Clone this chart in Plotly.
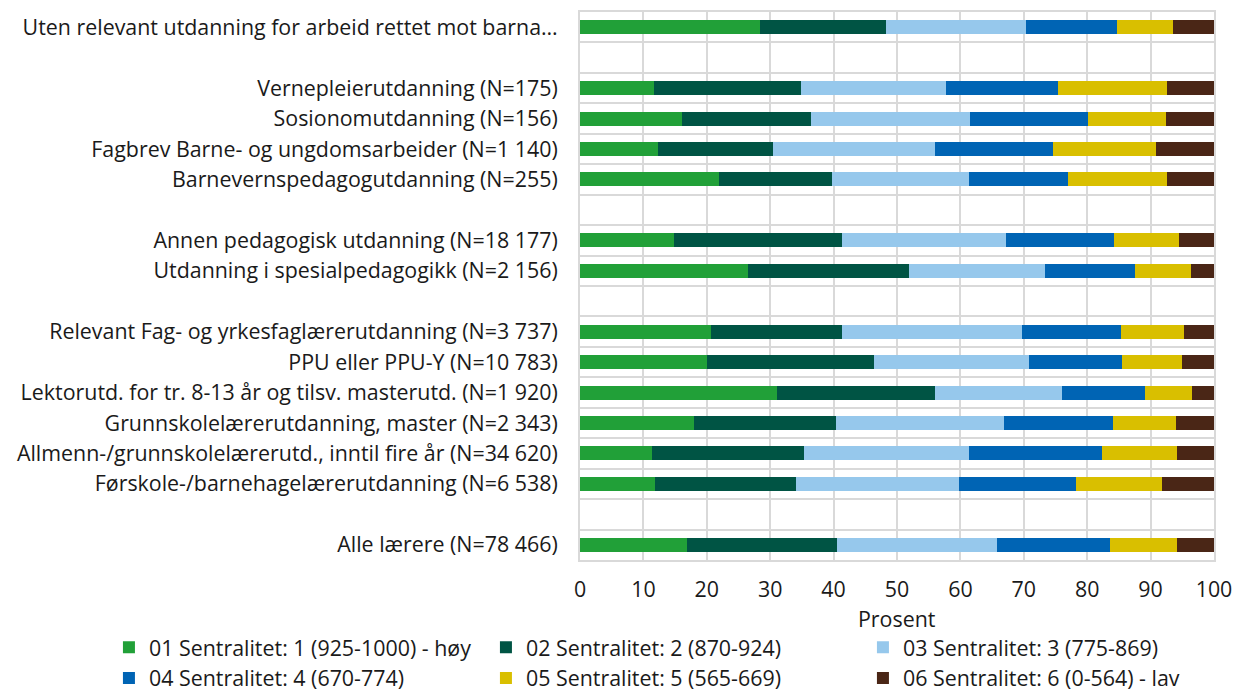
import plotly.graph_objects as go

# Category groups (top to bottom); blank rows separate groups
groups = [
    ["Uten relevant utdanning for arbeid rettet mot barna…"],
    ["Vernepleierutdanning (N=175)",
     "Sosionomutdanning (N=156)",
     "Fagbrev Barne- og ungdomsarbeider (N=1 140)",
     "Barnevernspedagogutdanning (N=255)"],
    ["Annen pedagogisk utdanning (N=18 177)",
     "Utdanning i spesialpedagogikk (N=2 156)"],
    ["Relevant Fag- og yrkesfaglærerutdanning (N=3 737)",
     "PPU eller PPU-Y (N=10 783)",
     "Lektorutd. for tr. 8-13 år og tilsv. masterutd. (N=1 920)",
     "Grunnskolelærerutdanning, master (N=2 343)",
     "Allmenn-/grunnskolelærerutd., inntil fire år (N=34 620)",
     "Førskole-/barnehagelærerutdanning (N=6 538)"],
    ["Alle lærere (N=78 466)"],
]

series_names = [
    "01 Sentralitet: 1 (925-1000) - høy",
    "02 Sentralitet: 2 (870-924)",
    "03 Sentralitet: 3 (775-869)",
    "04 Sentralitet: 4 (670-774)",
    "05 Sentralitet: 5 (565-669)",
    "06 Sentralitet: 6 (0-564) - lav",
]

# values per series, in the category order above (flattened)
s1 = [28.4, 11.6, 16.1, 12.3, 22.0, 14.9, 26.5, 20.7, 20.1, 31.1, 18.0, 11.4, 11.8, 16.8]
s2 = [19.9, 23.3, 20.4, 18.1, 17.7, 26.5, 25.4, 20.7, 26.3, 24.9, 22.3, 24.0, 22.2, 23.8]
s3 = [22.0, 22.9, 25.0, 25.6, 21.6, 25.8, 21.4, 28.3, 24.4, 20.0, 26.6, 26.0, 25.8, 25.2]
s4 = [14.4, 17.6, 18.6, 18.6, 15.6, 17.1, 14.2, 15.6, 14.7, 13.1, 17.2, 20.9, 18.4, 17.8]
s5 = [8.9, 17.2, 12.3, 16.2, 15.7, 10.2, 8.9, 9.9, 9.5, 7.5, 9.9, 11.8, 13.6, 10.6]
s6 = [6.4, 7.4, 7.6, 9.2, 7.4, 5.5, 3.6, 4.8, 5.0, 3.4, 6.0, 5.9, 8.2, 5.8]

colors = ["#21a038", "#005444", "#96c8ec", "#0064b4", "#d9bf00", "#4a2616"]

# row positions (layout): one blank row between groups
labels, rows = [], []
r = 0
for gi, g in enumerate(groups):
    if gi > 0:
        r += 1
    for lab in g:
        labels.append(lab)
        rows.append(r)
        r += 1
n_rows = r

FONT = "Open Sans"
FS = 21.4
TXT = "#1a1a1a"
GRID = "#d9d9d9"

fig = go.Figure()
for name, vals, col in zip(series_names, [s1, s2, s3, s4, s5, s6], colors):
    fig.add_trace(go.Bar(
        x=vals, y=rows, name=name, orientation="h",
        marker=dict(color=col, line=dict(width=0)),
        width=0.46,
    ))

fig.update_layout(
    barmode="stack",
    width=1234, height=683,
    margin=dict(l=572, r=28, t=4, b=131, autoexpand=False),
    paper_bgcolor="white", plot_bgcolor="white",
    font=dict(family=FONT, size=FS, color=TXT),
    showlegend=True,
    legend=dict(
        orientation="h",
        x=-0.743, y=-0.122, xanchor="left", yanchor="top",
        entrywidth=332, entrywidthmode="pixels",
        font=dict(family=FONT, size=FS, color=TXT),
        traceorder="normal",
        tracegroupgap=0,
    ),
    bargap=0,
    annotations=[dict(
        text="Prosent", xref="paper", yref="paper", x=0.5, y=-0.1065,
        xanchor="center", yanchor="middle", showarrow=False,
        font=dict(family=FONT, size=FS, color=TXT),
    )],
)

fig.update_xaxes(
    range=[0, 100], dtick=10, tick0=0,
    showgrid=True, gridcolor=GRID, gridwidth=2,
    zeroline=False, showline=True, linecolor=GRID, linewidth=2, mirror=True,
    ticks="", ticklabelstandoff=9,
    tickfont=dict(family=FONT, size=FS, color=TXT),
)
fig.update_yaxes(
    range=[n_rows - 0.5, -0.5],
    tickmode="array", tickvals=rows, ticktext=labels,
    showgrid=False, zeroline=False,
    showline=True, linecolor=GRID, linewidth=2, mirror=True,
    minor=dict(tickmode="linear", tick0=0.5, dtick=1, showgrid=True,
               gridcolor=GRID, gridwidth=2, ticks=""),
    ticks="", ticklabelstandoff=16,
    tickfont=dict(family=FONT, size=FS, color=TXT),
)

fig.write_html("out.html")
